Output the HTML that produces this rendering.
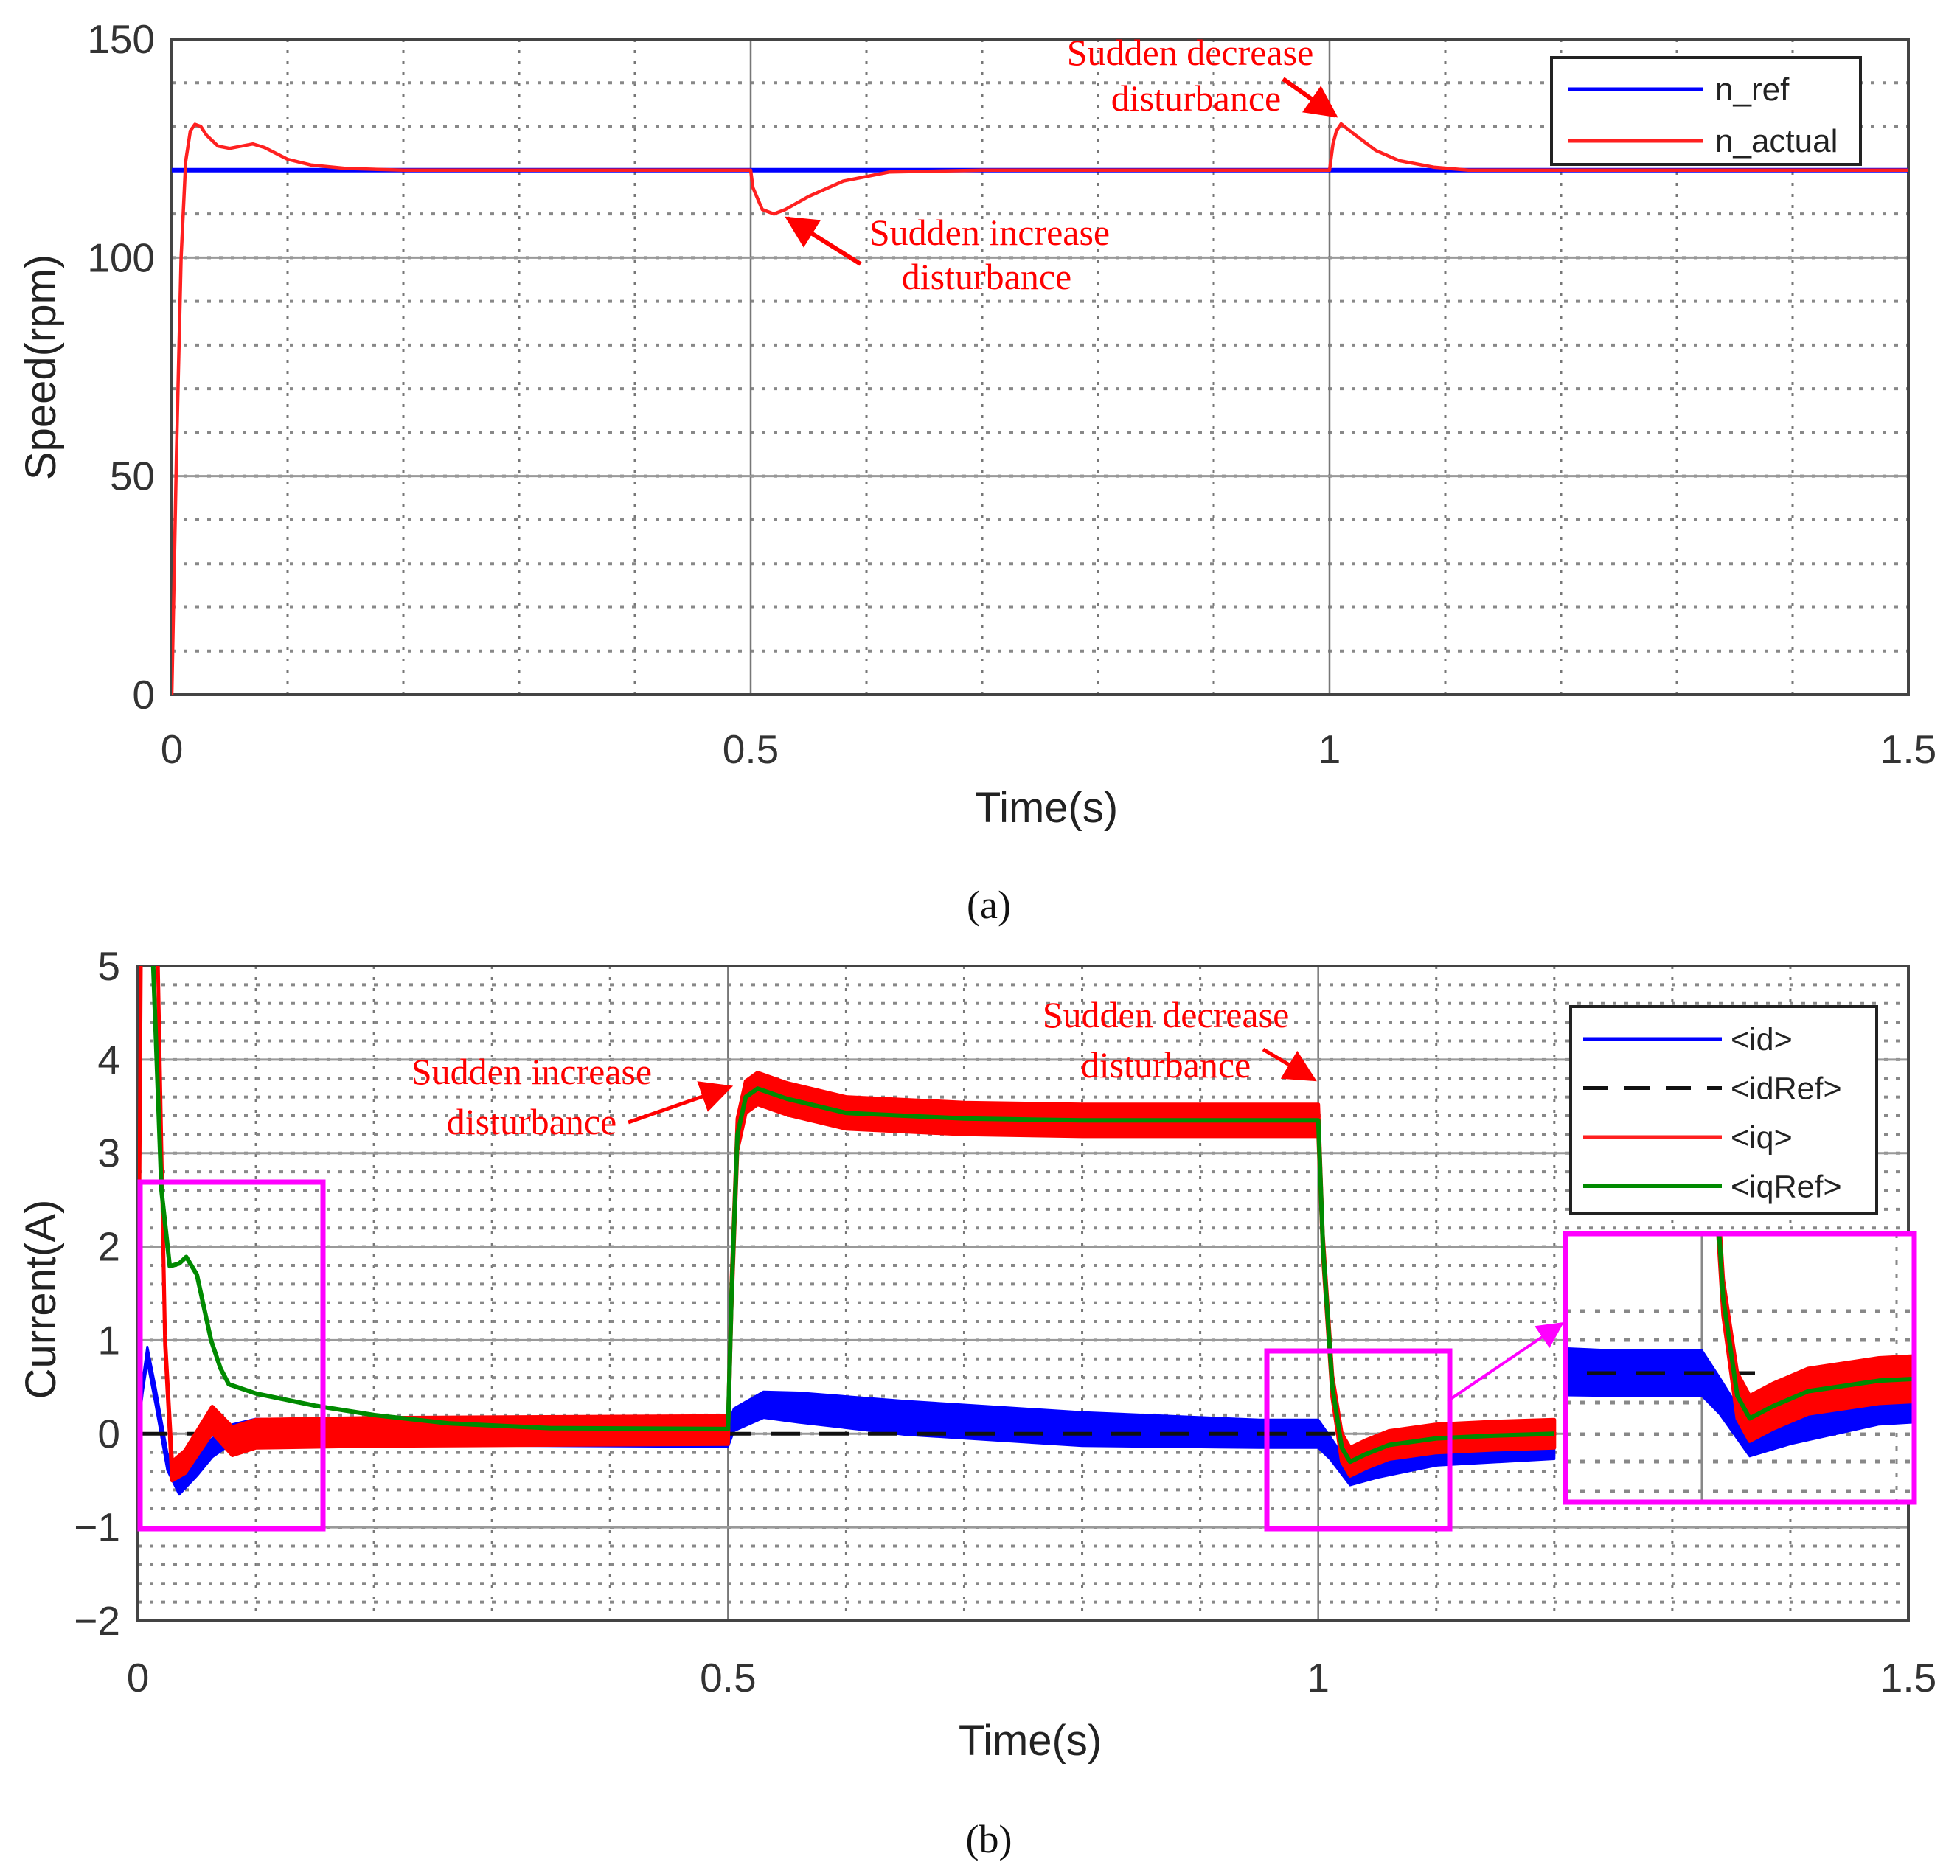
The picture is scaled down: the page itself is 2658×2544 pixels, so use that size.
<!DOCTYPE html>
<html><head><meta charset="utf-8"><style>
html,body{margin:0;padding:0;background:#fff;}
svg{display:block;}
text{font-family:"Liberation Sans",Arial,sans-serif;}
.ann{font-family:"Liberation Serif","Times New Roman",serif;fill:#ff0000;font-size:50px;}
</style></head><body>
<svg id="fig" width="2658" height="2544" viewBox="0 0 2658 2544" xmlns="http://www.w3.org/2000/svg">
<defs>
<marker id="ahm" viewBox="0 0 10 10" refX="9" refY="5" markerWidth="36" markerHeight="36" markerUnits="userSpaceOnUse" orient="auto"><path d="M0,0 L10,5 L0,10 z" fill="#ff00ff"/></marker>
<marker id="ahr" viewBox="0 0 10 10" refX="9" refY="5" markerWidth="44" markerHeight="44" markerUnits="userSpaceOnUse" orient="auto"><path d="M0,0 L10,5 L0,10 z" fill="#ff0000"/></marker>
<clipPath id="clipA"><rect x="233" y="53" width="2355" height="889"/></clipPath>
<clipPath id="clipB"><rect x="187" y="1310" width="2401" height="888"/></clipPath>
<clipPath id="clipI"><rect x="2123" y="1673" width="473" height="364"/></clipPath>
</defs>
<g id="gA"></g>
<g id="gB"></g>
</svg>
<script>
// ---- Chart (a) data ----
const speedXTicks = [0, 0.5, 1, 1.5];
const speedXTickLabels = ["0", "0.5", "1", "1.5"];
const speedYTicks = [0, 50, 100, 150];
const speedYTickLabels = ["0", "50", "100", "150"];
const nRefT = [0, 1.5];
const nRefV = [120, 120];
const nActT = [0, 0.004, 0.008, 0.012, 0.016, 0.02, 0.025, 0.03, 0.04, 0.05, 0.06, 0.07, 0.08, 0.1, 0.12, 0.15, 0.2, 0.5, 0.502, 0.51, 0.52, 0.53, 0.55, 0.58, 0.62, 0.7, 1.0, 1.003, 1.006, 1.01, 1.02, 1.04, 1.06, 1.09, 1.12, 1.5];
const nActV = [0, 55, 100, 122, 129, 130.5, 130, 128, 125.5, 125, 125.5, 126, 125.2, 122.5, 121.2, 120.4, 120, 120, 116, 111, 110, 111, 114, 117.5, 119.6, 120, 120, 126, 129, 130.6, 128.5, 124.5, 122.2, 120.7, 120, 120];

// ---- Chart (b) data ----
const curXTicks = [0, 0.5, 1, 1.5];
const curXTickLabels = ["0", "0.5", "1", "1.5"];
const curYTicks = [-2, -1, 0, 1, 2, 3, 4, 5];
const curYTickLabels = ["\u22122", "\u22121", "0", "1", "2", "3", "4", "5"];
const iqRefT = [0.008, 0.013, 0.02, 0.027, 0.035, 0.041, 0.05, 0.062, 0.07, 0.077, 0.1, 0.15, 0.2, 0.264, 0.35, 0.5, 0.503, 0.508, 0.515, 0.525, 0.55, 0.6, 0.7, 0.8, 1.0, 1.004, 1.012, 1.02, 1.027, 1.04, 1.06, 1.1, 1.15, 1.2];
const iqRefV = [8, 5, 2.6, 1.79, 1.82, 1.89, 1.7, 1.0, 0.7, 0.53, 0.43, 0.3, 0.2, 0.11, 0.06, 0.05, 1.5, 3.2, 3.6, 3.69, 3.58, 3.43, 3.37, 3.35, 3.35, 2.0, 0.5, -0.15, -0.3, -0.22, -0.12, -0.05, -0.02, 0];
const iqT = [0, 0.004, 0.012, 0.017, 0.023, 0.029, 0.04, 0.063, 0.08, 0.1, 0.2, 0.5, 0.503, 0.508, 0.515, 0.525, 0.55, 0.6, 0.7, 0.8, 1.0, 1.004, 1.012, 1.02, 1.027, 1.04, 1.06, 1.1, 1.15, 1.2];
const iqV = [0, 8, 8, 5, 1.0, -0.4, -0.3, 0.15, -0.08, 0.0, 0.02, 0.04, 1.5, 3.2, 3.6, 3.69, 3.58, 3.43, 3.37, 3.35, 3.35, 2.0, 0.5, -0.15, -0.3, -0.22, -0.12, -0.05, -0.02, 0];
const iqHalf = [0, 0, 0, 0, 0.05, 0.1, 0.12, 0.14, 0.15, 0.15, 0.15, 0.15, 0.17, 0.17, 0.17, 0.17, 0.17, 0.17, 0.17, 0.17, 0.17, 0.12, 0.12, 0.15, 0.15, 0.15, 0.15, 0.15, 0.15, 0.15];
const idT = [0, 0.004, 0.008, 0.015, 0.025, 0.035, 0.05, 0.063, 0.08, 0.1, 0.2, 0.5, 0.505, 0.53, 0.56, 0.65, 0.8, 0.95, 1.0, 1.01, 1.027, 1.05, 1.1, 1.2];
const idV = [0, 0.5, 0.85, 0.4, -0.3, -0.55, -0.35, -0.15, 0.0, 0.04, 0.0, -0.02, 0.15, 0.31, 0.28, 0.17, 0.05, 0.0, 0.0, -0.15, -0.45, -0.35, -0.22, -0.15];
const idHalf = [0.02, 0.06, 0.08, 0.09, 0.09, 0.1, 0.1, 0.1, 0.1, 0.12, 0.12, 0.12, 0.12, 0.14, 0.16, 0.18, 0.18, 0.15, 0.15, 0.12, 0.1, 0.12, 0.12, 0.12];
const idRefT = [0, 1.03];
const idRefV = [0, 0];
const legendA = ["n_ref", "n_actual"];
const legendB = ["<id>", "<idRef>", "<iq>", "<iqRef>"];

const NS = "http://www.w3.org/2000/svg";
function mk(parent, tag, attrs, txt) {
  const e = document.createElementNS(NS, tag);
  for (const k in attrs) e.setAttribute(k, attrs[k]);
  if (txt !== undefined) e.textContent = txt;
  parent.appendChild(e);
  return e;
}
const A = {x0: 233, x1: 2588, y0: 942, y1: 53, xmin: 0, xmax: 1.5, ymin: 0, ymax: 150};
const B = {x0: 187, x1: 2588, y0: 2198, y1: 1310, xmin: 0, xmax: 1.5, ymin: -2, ymax: 5};
const I = {tx1: 2308, sx: 2400, yz: 1862, sy: 205};
function sx(ax, t) { return ax.x0 + (t - ax.xmin) / (ax.xmax - ax.xmin) * (ax.x1 - ax.x0); }
function sy(ax, v) { return ax.y0 - (v - ax.ymin) / (ax.ymax - ax.ymin) * (ax.y0 - ax.y1); }
function ix(t) { return I.tx1 + (t - 1) * I.sx; }
function iy(v) { return I.yz - v * I.sy; }
function linePath(T, V, fx, fy) { return T.map((t, i) => (i ? "L" : "M") + fx(t).toFixed(1) + "," + fy(V[i]).toFixed(1)).join(""); }
function bandPath(T, V, H, fx, fy) {
  let d = T.map((t, i) => (i ? "L" : "M") + fx(t).toFixed(1) + "," + fy(V[i] + H[i]).toFixed(1)).join("");
  for (let i = T.length - 1; i >= 0; i--) d += "L" + fx(T[i]).toFixed(1) + "," + fy(V[i] - H[i]).toFixed(1);
  return d + "Z";
}

function grid(g, ax, minorY, name) {
  const gg = mk(g, "g", {});
  
  
  for (let t = 0.1; t < 1.5; t += 0.1) {
    if (Math.abs(t * 2 - Math.round(t * 2)) < 1e-6) continue;
    const X = sx(ax, t);
    mk(gg, "line", {x1: X, y1: ax.y1, x2: X, y2: ax.y0, stroke: "#777", "stroke-width": 3, "stroke-dasharray": "4 11"});
  }
  for (let v = ax.ymin + minorY; v < ax.ymax - 1e-6; v += minorY) {
    const Y = sy(ax, v);
    mk(gg, "line", {x1: ax.x0, y1: Y, x2: ax.x1, y2: Y, stroke: "#888", "stroke-width": 4, "stroke-dasharray": "5 11"});
  }
}
function axesFrame(g, ax, xt, xl, yt, yl, name, xlabY, ylabX) {
  for (const t of xt) {
    const X = sx(ax, t);
    if (t > ax.xmin && t < ax.xmax) mk(g, "line", {x1: X, y1: ax.y1, x2: X, y2: ax.y0, stroke: "#777", "stroke-width": 2.5});
  }
  for (const v of yt) {
    const Y = sy(ax, v);
    if (v > ax.ymin && v < ax.ymax) mk(g, "line", {x1: ax.x0, y1: Y, x2: ax.x1, y2: Y, stroke: "#999", "stroke-width": 3});
  }
  mk(g, "rect", {x: ax.x0, y: ax.y1, width: ax.x1 - ax.x0, height: ax.y0 - ax.y1, fill: "none", stroke: "#444", "stroke-width": 4});
  xt.forEach((t, i) => {
    const e = mk(g, "text", {x: sx(ax, t), y: xlabY, "font-size": 55, fill: "#333", "text-anchor": "middle"}, xl[i]);
    
    
  });
  yt.forEach((v, i) => {
    const e = mk(g, "text", {x: ylabX, y: sy(ax, v) + 19, "font-size": 55, fill: "#333", "text-anchor": "end"}, yl[i]);
    
    
  });
}

// ===== Chart A =====
const gA = document.getElementById("gA");
grid(gA, A, 10, "speed");
axesFrame(gA, A, speedXTicks, speedXTickLabels, speedYTicks, speedYTickLabels, "speed", 1035, 210);
const cA = mk(gA, "g", {"clip-path": "url(#clipA)"});
let e;
e = mk(cA, "path", {d: linePath(nRefT, nRefV, t => sx(A, t), v => sy(A, v)), fill: "none", stroke: "#0000ff", "stroke-width": 6});


e = mk(cA, "path", {d: linePath(nActT, nActV, t => sx(A, t), v => sy(A, v)), fill: "none", stroke: "#ff2020", "stroke-width": 4.5, "stroke-linejoin": "round"});


const lgA = mk(gA, "g", {});


mk(lgA, "rect", {x: 2104, y: 78, width: 419, height: 145, fill: "#fff", stroke: "#222", "stroke-width": 4});
const lgAcol = ["#0000ff", "#ff2020"];
legendA.forEach((s, i) => {
  const Y = 121 + i * 70;
  mk(lgA, "line", {x1: 2127, y1: Y, x2: 2309, y2: Y, stroke: lgAcol[i], "stroke-width": 5});
  const t = mk(lgA, "text", {x: 2326, y: Y + 15, "font-size": 44, fill: "#222"}, s);
  
  
});
e = mk(gA, "text", {x: 1419, y: 1115, "font-size": 58, fill: "#222", "text-anchor": "middle"}, "Time(s)");
 
e = mk(gA, "text", {x: 0, y: 0, "font-size": 58, fill: "#222", "text-anchor": "middle", transform: "translate(75,498) rotate(-90)"}, "Speed(rpm)");
 
e = mk(gA, "text", {class: "ann", x: 1614, y: 88, "text-anchor": "middle"}, "Sudden decrease");
 
mk(gA, "text", {class: "ann", x: 1622, y: 150, "text-anchor": "middle"}, "disturbance");
mk(gA, "line", {x1: 1740, y1: 107, x2: 1811, y2: 157, stroke: "#ff0000", "stroke-width": 6, "marker-end": "url(#ahr)"});
e = mk(gA, "text", {class: "ann", x: 1342, y: 332, "text-anchor": "middle"}, "Sudden increase");
 
mk(gA, "text", {class: "ann", x: 1338, y: 392, "text-anchor": "middle"}, "disturbance");
mk(gA, "line", {x1: 1167, y1: 358, x2: 1068, y2: 296, stroke: "#ff0000", "stroke-width": 6, "marker-end": "url(#ahr)"});
e = mk(gA, "text", {x: 1341, y: 1245, "font-size": 54, fill: "#111", "text-anchor": "middle", style: "font-family:'Liberation Serif',serif"}, "(a)");
 

// ===== Chart B =====
const gB = document.getElementById("gB");
grid(gB, B, 0.2, "current");
axesFrame(gB, B, curXTicks, curXTickLabels, curYTicks, curYTickLabels, "current", 2294, 163);
const cB = mk(gB, "g", {"clip-path": "url(#clipB)"});
function series(parent, fx, fy, pre) {
  let s;
  s = mk(parent, "path", {d: bandPath(idT, idV, idHalf, fx, fy), fill: "#0000ff", stroke: "#0000ff", "stroke-width": 3, "stroke-linejoin": "round"});
   
  s = mk(parent, "path", {d: linePath(idRefT, idRefV, fx, fy), fill: "none", stroke: "#111", "stroke-width": 5, "stroke-dasharray": "40 26"});
   
  s = mk(parent, "path", {d: bandPath(iqT, iqV, iqHalf, fx, fy), fill: "#ff0000", stroke: "#ff0000", "stroke-width": 5, "stroke-linejoin": "round"});
   
  s = mk(parent, "path", {d: linePath(iqRefT, iqRefV, fx, fy), fill: "none", stroke: "#008a00", "stroke-width": 6, "stroke-linejoin": "round"});
   
}
series(cB, t => sx(B, t), v => sy(B, v), "");
e = mk(gB, "rect", {x: 190, y: 1603, width: 248, height: 470, fill: "none", stroke: "#ff00ff", "stroke-width": 7});
 
e = mk(gB, "rect", {x: 1718, y: 1832, width: 248, height: 241, fill: "none", stroke: "#ff00ff", "stroke-width": 7});
 
mk(gB, "line", {x1: 1963, y1: 1900, x2: 2118, y2: 1795, stroke: "#ff00ff", "stroke-width": 4, "marker-end": "url(#ahm)"});
const gI = mk(gB, "g", {});
 
mk(gI, "rect", {x: 2123, y: 1673, width: 473, height: 364, fill: "#fff"});
const cI = mk(gI, "g", {"clip-path": "url(#clipI)"});
for (const Y of [1778, 1817, 1902, 1945, 1982, 2022]) mk(cI, "line", {x1: 2123, y1: Y, x2: 2596, y2: Y, stroke: "#888", "stroke-width": 5, "stroke-dasharray": "7 13"});
mk(cI, "line", {x1: 2572, y1: 1673, x2: 2572, y2: 2037, stroke: "#888", "stroke-width": 3, "stroke-dasharray": "6 12"});
mk(cI, "line", {x1: ix(1), y1: 1673, x2: ix(1), y2: 2037, stroke: "#888", "stroke-width": 3});
series(cI, ix, iy, "inset-");
mk(gI, "rect", {x: 2123, y: 1673, width: 473, height: 364, fill: "none", stroke: "#ff00ff", "stroke-width": 7});
const lgB = mk(gB, "g", {});
 
mk(lgB, "rect", {x: 2130, y: 1365, width: 415, height: 281, fill: "#fff", stroke: "#222", "stroke-width": 4});
const lgBcol = ["#0000ff", "#111", "#ff2020", "#008a00"];
legendB.forEach((s, i) => {
  const Y = 1409 + i * 66.5;
  const at = {x1: 2147, y1: Y, x2: 2335, y2: Y, stroke: lgBcol[i], "stroke-width": 5};
  if (i === 1) at["stroke-dasharray"] = "34 22";
  mk(lgB, "line", at);
  const t = mk(lgB, "text", {x: 2347, y: Y + 15, "font-size": 43, fill: "#222"}, s);
   
});
e = mk(gB, "text", {x: 1397, y: 2380, "font-size": 58, fill: "#222", "text-anchor": "middle"}, "Time(s)");
 
e = mk(gB, "text", {x: 0, y: 0, "font-size": 58, fill: "#222", "text-anchor": "middle", transform: "translate(75,1762) rotate(-90)"}, "Current(A)");
 
e = mk(gB, "text", {class: "ann", x: 721, y: 1470, "text-anchor": "middle"}, "Sudden increase");
 
mk(gB, "text", {class: "ann", x: 721, y: 1538, "text-anchor": "middle"}, "disturbance");
mk(gB, "line", {x1: 852, y1: 1522, x2: 990, y2: 1474, stroke: "#ff0000", "stroke-width": 5, "marker-end": "url(#ahr)"});
e = mk(gB, "text", {class: "ann", x: 1581, y: 1393, "text-anchor": "middle"}, "Sudden decrease");
 
mk(gB, "text", {class: "ann", x: 1581, y: 1461, "text-anchor": "middle"}, "disturbance");
mk(gB, "line", {x1: 1713, y1: 1423, x2: 1782, y2: 1464, stroke: "#ff0000", "stroke-width": 5, "marker-end": "url(#ahr)"});
e = mk(gB, "text", {x: 1341, y: 2512, "font-size": 54, fill: "#111", "text-anchor": "middle", style: "font-family:'Liberation Serif',serif"}, "(b)");
 
</script>
</body></html>
